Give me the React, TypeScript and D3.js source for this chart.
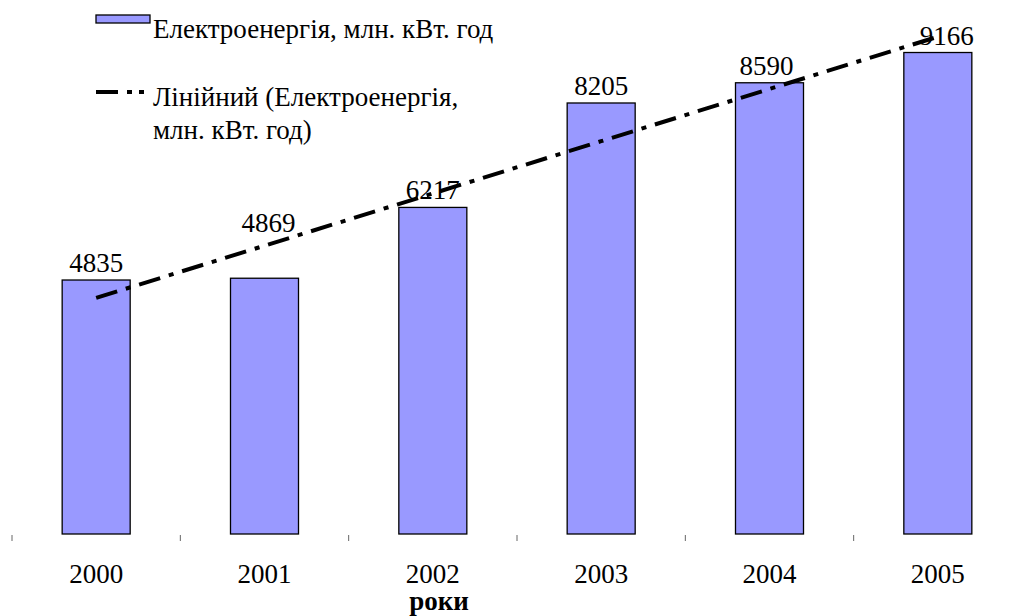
import React from "react";
import * as d3 from "d3";

const years = ["2000", "2001", "2002", "2003", "2004", "2005"];
const energy = [4835, 4869, 6217, 8205, 8590, 9166];
// the 2001 label sits higher than the others in the original
const labelLift = [0, 38, 0, 0, 0, 0];
const labelNudge = [0, 4, 0, 0, -3, 9];

const seriesName = "Електроенергія, млн. кВт. год";
const trendName = ["Лінійний (Електроенергія,", "млн. кВт. год)"];
const axisTitle = "роки";

const W = 1009;
const H = 616;
const font = "Liberation Serif";
const barFill = "#9999FF";
const fs = 27;

const App = () => {
  const x = d3.scaleBand().domain(years).range([12, 1022]);
  const y = d3.scaleLinear().domain([0, 10000]).range([534, 8.7]);
  const barW = x.bandwidth() * 0.404;

  // linear trend (least squares over the category index)
  const idx = energy.map((_, i) => i);
  const mx = d3.mean(idx) as number;
  const my = d3.mean(energy) as number;
  const slope =
    (d3.sum(idx, (i) => (i - mx) * (energy[i] - my)) as number) /
    (d3.sum(idx, (i) => (i - mx) * (i - mx)) as number);
  const icpt = my - slope * mx;
  const trend = d3
    .line<number>()
    .x((i) => (x(years[i]) as number) + x.bandwidth() / 2)
    .y((i) => y(icpt + slope * i));

  const ticks = years.map((d) => x(d) as number).concat([x.range()[1]]);

  const T = (props: any) => <text fontFamily={font} fontSize={fs} fill="#000" {...props} />;

  return (
    <svg width={W} height={H} style={{ position: "absolute", left: 0, top: 0, background: "#fff" }}>
      {energy.map((v, i) => {
        const cx = (x(years[i]) as number) + x.bandwidth() / 2;
        return (
          <rect
            key={years[i]}
            x={cx - barW / 2}
            y={y(v)}
            width={barW}
            height={y(0) - y(v)}
            fill={barFill}
            stroke="#000"
            strokeWidth={1.3}
          />
        );
      })}

      <path
        d={trend([0, 1, 2, 3, 4, 5]) as string}
        fill="none"
        stroke="#000"
        strokeWidth={4}
        strokeDasharray="22 9 5 9"
      />

      {energy.map((v, i) => {
        const cx = (x(years[i]) as number) + x.bandwidth() / 2;
        return (
          <T key={"l" + i} x={cx + labelNudge[i]} y={y(v) - 8 - labelLift[i]} textAnchor="middle">
            {v}
          </T>
        );
      })}

      {ticks.map((t, i) => (
        <line key={"t" + i} x1={t} x2={t} y1={535} y2={541} stroke="#666" strokeWidth={1} />
      ))}

      {years.map((d) => (
        <T key={"y" + d} x={(x(d) as number) + x.bandwidth() / 2} y={583} textAnchor="middle">
          {d}
        </T>
      ))}

      <T x={439} y={610} textAnchor="middle" fontWeight="bold">
        {axisTitle}
      </T>

      {/* legend */}
      <rect x={96} y={15} width={54} height={8} fill={barFill} stroke="#000" strokeWidth={1.3} />
      <T x={153} y={38}>{seriesName}</T>
      <line
        x1={96}
        x2={150}
        y1={92}
        y2={92}
        stroke="#000"
        strokeWidth={4}
        strokeDasharray="22 9 5 7 5 9"
      />
      <T x={153} y={106}>{trendName[0]}</T>
      <T x={153} y={139}>{trendName[1]}</T>
    </svg>
  );
};

export default App;
